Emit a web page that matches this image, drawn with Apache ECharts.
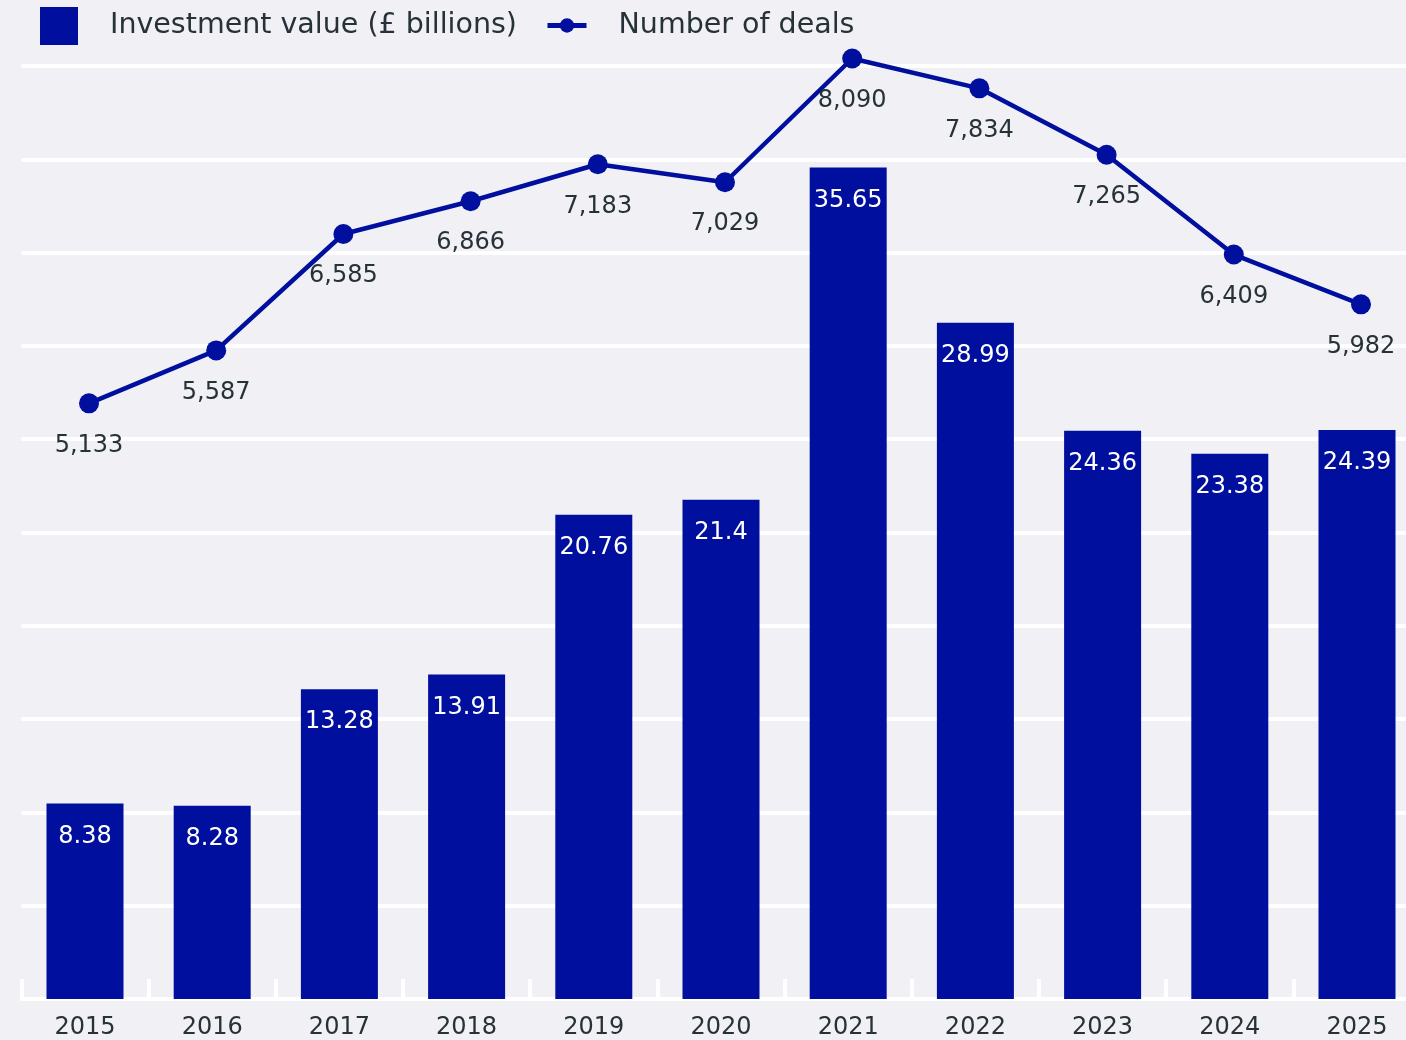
<!DOCTYPE html>
<html>
<head>
<meta charset="utf-8">
<script src="https://cdn.jsdelivr.net/npm/echarts@6/dist/echarts.min.js"></script>
<style>
  html, body { margin: 0; padding: 0; background: #f0f0f5; }
  #chart { width: 1406px; height: 1040px; }
</style>
</head>
<body>
<div id="chart"></div>
<script>
var years = ['2015', '2016', '2017', '2018', '2019', '2020', '2021', '2022', '2023', '2024', '2025']
var investment = [8.38, 8.28, 13.28, 13.91, 20.76, 21.4, 35.65, 28.99, 24.36, 23.38, 24.39]
var deals = [5133, 5587, 6585, 6866, 7183, 7029, 8090, 7834, 7265, 6409, 5982]

var blue = '#000f9e'
var textColor = '#263238'
var font = 'DejaVu Sans'

var myChart = echarts.init(document.getElementById('chart'))

var option = {
  backgroundColor: '#f0f0f5',
  textStyle: { fontFamily: font },
  legend: [
    {
      data: [{ name: 'Investment value (£ billions)', icon: 'rect' }],
      left: 40,
      top: 7,
      padding: 0,
      itemWidth: 38,
      itemHeight: 38,
      textStyle: { color: textColor, fontSize: 28.5, fontFamily: font, padding: [0, 0, 0, 27] }
    },
    {
      data: ['Number of deals'],
      left: 545,
      top: 11,
      padding: 0,
      itemWidth: 39,
      itemHeight: 18,
      lineStyle: { width: 5 },
      textStyle: { color: textColor, fontSize: 28.5, fontFamily: font, padding: [0, 0, 0, 27] }
    }
  ],
  grid: [
    { left: 21.4, width: 1399.2, top: 66, bottom: 41, outerBoundsMode: 'none' },
    // the line sits a few pixels right and down of the bars
    { left: 25.4, width: 1399.2, top: -24.3, bottom: 38, outerBoundsMode: 'none' }
  ],
  xAxis: [
    {
      type: 'category',
      gridIndex: 0,
      data: years,
      axisLine: { show: true, lineStyle: { color: '#ffffff', width: 4 } },
      axisTick: { show: true, inside: true, length: 20, lineStyle: { color: '#ffffff', width: 4 } },
      axisLabel: { color: textColor, fontSize: 24, fontFamily: font, margin: 17 },
      splitLine: { show: false }
    },
    {
      type: 'category',
      gridIndex: 1,
      data: years,
      show: false
    }
  ],
  yAxis: [
    {
      type: 'value',
      gridIndex: 0,
      min: 0,
      max: 40,
      interval: 4,
      axisLabel: { show: false },
      axisLine: { show: false },
      axisTick: { show: false },
      splitLine: { lineStyle: { color: '#ffffff', width: 4 } }
    },
    {
      type: 'value',
      gridIndex: 1,
      min: 0,
      max: 8800,
      interval: 800,
      show: false,
      splitLine: { show: false }
    }
  ],
  series: [
    {
      name: 'Investment value (£ billions)',
      type: 'bar',
      xAxisIndex: 0,
      yAxisIndex: 0,
      data: investment,
      barWidth: 77,
      itemStyle: { color: blue },
      label: {
        show: true,
        position: 'insideTop',
        distance: 21,
        color: '#ffffff',
        fontSize: 24,
        fontFamily: font
      },
      z: 3
    },
    {
      name: 'Number of deals',
      type: 'line',
      xAxisIndex: 1,
      yAxisIndex: 1,
      data: deals,
      symbol: 'circle',
      symbolSize: 20,
      lineStyle: { color: blue, width: 4.5 },
      itemStyle: { color: blue },
      label: {
        show: true,
        position: 'bottom',
        distance: 20,
        color: textColor,
        fontSize: 24,
        fontFamily: font,
        formatter: function (p) {
          return p.value.toLocaleString('en-GB')
        }
      },
      z: 4
    }
  ]
}

myChart.setOption(option)
</script>
</body>
</html>
